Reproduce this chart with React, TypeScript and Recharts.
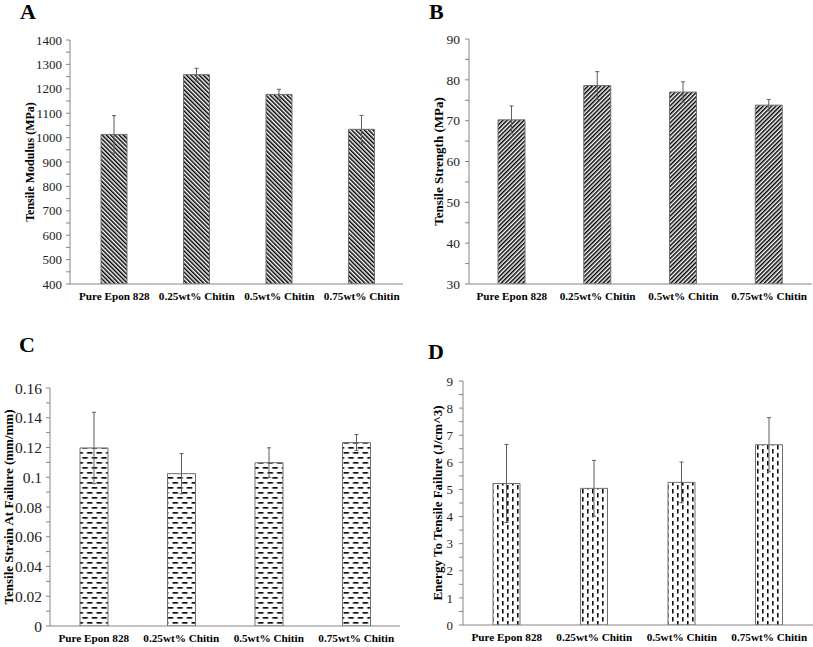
import { BarChart, Bar, XAxis, YAxis, ErrorBar } from "recharts";

const categories = ["Pure Epon 828", "0.25wt% Chitin", "0.5wt% Chitin", "0.75wt% Chitin"];

// A - tensile modulus
const modulusValues = [1013, 1258, 1177, 1034];
const modulusErrors = [77, 26, 21, 57];
const modulusTicks = [400, 450, 500, 550, 600, 650, 700, 750, 800, 850, 900, 950, 1000, 1050, 1100, 1150, 1200, 1250, 1300, 1350, 1400];
const modulusLabels = [400, 500, 600, 700, 800, 900, 1000, 1100, 1200, 1300, 1400];

// B - tensile strength
const strengthValues = [70.2, 78.6, 77.0, 73.8];
const strengthErrors = [3.4, 3.4, 2.5, 1.4];
const strengthTicks = [30, 35, 40, 45, 50, 55, 60, 65, 70, 75, 80, 85, 90];
const strengthLabels = [30, 40, 50, 60, 70, 80, 90];

// C - strain at failure
const strainValues = [0.1197, 0.1024, 0.1098, 0.1233];
const strainErrors = [0.024, 0.0135, 0.01, 0.0054];
const strainTicks = [0, 0.01, 0.02, 0.03, 0.04, 0.05, 0.06, 0.07, 0.08, 0.09, 0.1, 0.11, 0.12, 0.13, 0.14, 0.15, 0.16];
const strainLabels = [0, 0.02, 0.04, 0.06, 0.08, 0.1, 0.12, 0.14, 0.16];

// D - energy to failure
const energyValues = [5.22, 5.04, 5.26, 6.65];
const energyErrors = [1.44, 1.03, 0.75, 1.0];
const energyTicks = [0, 0.5, 1, 1.5, 2, 2.5, 3, 3.5, 4, 4.5, 5, 5.5, 6, 6.5, 7, 7.5, 8, 8.5, 9];
const energyLabels = [0, 1, 2, 3, 4, 5, 6, 7, 8, 9];

const FONT = '"Liberation Serif", "Times New Roman", serif';
const AXIS = "#868686";

function patternDefs(kind: string, id: string) {
  if (kind === "back" || kind === "fwd") {
    return (
      <pattern id={id} width={3} height={3} patternUnits="userSpaceOnUse" patternTransform={kind === "back" ? "rotate(-45)" : "rotate(45)"}>
        <rect width={3} height={3} fill="#fff" />
        <rect width={1.5} height={3} fill="#000" />
      </pattern>
    );
  }
  if (kind === "hdash") {
    return (
      <pattern id={id} width={9.5} height={10} patternUnits="userSpaceOnUse">
        <rect width={9.5} height={10} fill="#fff" />
        <rect x={1.5} y={2} width={5.5} height={1.7} fill="#111" />
        <rect x={6.25} y={7} width={5.5} height={1.7} fill="#111" />
        <rect x={-3.25} y={7} width={5.5} height={1.7} fill="#111" />
      </pattern>
    );
  }
  return (
    <pattern id={id} width={10} height={8} patternUnits="userSpaceOnUse">
      <rect width={10} height={8} fill="#fff" />
      <rect x={2} y={1} width={1.6} height={4.5} fill="#111" />
      <rect x={7} y={5} width={1.6} height={4.5} fill="#111" />
      <rect x={7} y={-3} width={1.6} height={4.5} fill="#111" />
    </pattern>
  );
}

interface PanelProps {
  id: string;
  letter: string;
  letterPos: { left: number; top: number };
  left: number;
  top: number;
  width: number;
  height: number;
  margin: { top: number; right: number; bottom: number; left: number };
  yWidth: number;
  xPadLeft: number;
  title: string;
  titleSize: number;
  titleX: number;
  tickSize: number;
  tickGap: number;
  ticks: number[];
  labels: number[];
  values: number[];
  errors: number[];
  pattern: string;
  barSize: number;
}

function Panel(p: PanelProps) {
  const data = categories.map((name, i) => ({ name, value: p.values[i], err: p.errors[i] }));
  const domain = [p.ticks[0], p.ticks[p.ticks.length - 1]];
  return (
    <>
      <div
        style={{
          position: "absolute",
          left: p.letterPos.left,
          top: p.letterPos.top,
          fontSize: 22,
          lineHeight: 1,
          fontWeight: "bold",
          fontFamily: FONT,
          color: "#000",
        }}
      >
        {p.letter}
      </div>
      <div style={{ position: "absolute", left: p.left, top: p.top }}>
        <BarChart width={p.width} height={p.height} data={data} margin={p.margin}>
          <defs>{patternDefs(p.pattern, p.id)}</defs>
          <XAxis
            dataKey="name"
            height={20}
            tickLine={false}
            axisLine={{ stroke: AXIS }}
            tick={{ fontSize: 11.2, fontWeight: "bold", fill: "#000", fontFamily: FONT }}
            interval={0}
            padding={{ left: p.xPadLeft, right: 0 }}
          />
          <YAxis
            width={p.yWidth}
            domain={domain}
            ticks={p.ticks}
            interval={0}
            allowDataOverflow
            tickSize={4}
            tickMargin={p.tickGap}
            tickLine={{ stroke: AXIS }}
            axisLine={{ stroke: AXIS }}
            tick={{ fontSize: p.tickSize, fill: "#222", fontFamily: FONT }}
            tickFormatter={(v: number) => (p.labels.includes(v) ? String(v) : "")}
            label={{
              value: p.title,
              angle: -90,
              position: "insideLeft",
              offset: p.titleX,
              textAnchor: "middle",
              style: { fontSize: p.titleSize, fontWeight: "bold", fill: "#000", fontFamily: FONT },
            }}
          />
          <Bar
            dataKey="value"
            fill={`url(#${p.id})`}
            stroke="#707070"
            strokeWidth={1}
            barSize={p.barSize}
            isAnimationActive={false}
          >
            <ErrorBar dataKey="err" direction="y" width={2} stroke="#5e5e5e" strokeWidth={1} />
          </Bar>
        </BarChart>
      </div>
    </>
  );
}

export default function App() {
  return (
    <div
      style={{
        position: "absolute",
        left: 0,
        top: 0,
        width: 813,
        height: 647,
        background: "#fff",
        fontFamily: FONT,
        overflow: "hidden",
      }}
    >
      <Panel
        id="patA"
        letter="A"
        letterPos={{ left: 20, top: 1 }}
        left={0}
        top={0}
        width={410}
        height={310}
        margin={{ top: 40, right: 7, bottom: 6, left: 0 }}
        yWidth={70}
        xPadLeft={3}
        title="Tensile Modulus (MPa)"
        titleSize={12}
        titleX={30}
        tickSize={13}
        tickGap={4}
        ticks={modulusTicks}
        labels={modulusLabels}
        values={modulusValues}
        errors={modulusErrors}
        pattern="back"
        barSize={26}
      />
      <Panel
        id="patB"
        letter="B"
        letterPos={{ left: 429, top: 1 }}
        left={410}
        top={0}
        width={403}
        height={310}
        margin={{ top: 39, right: 1, bottom: 6, left: 0 }}
        yWidth={59}
        xPadLeft={0}
        title="Tensile Strength (MPa)"
        titleSize={13}
        titleX={28}
        tickSize={13.5}
        tickGap={5}
        ticks={strengthTicks}
        labels={strengthLabels}
        values={strengthValues}
        errors={strengthErrors}
        pattern="fwd"
        barSize={27}
      />
      <Panel
        id="patC"
        letter="C"
        letterPos={{ left: 19, top: 334 }}
        left={0}
        top={320}
        width={410}
        height={327}
        margin={{ top: 68, right: 10, bottom: 1, left: 0 }}
        yWidth={50}
        xPadLeft={0}
        title="Tensile Strain At Failure (mm/mm)"
        titleSize={13}
        titleX={8}
        tickSize={15.5}
        tickGap={4}
        ticks={strainTicks}
        labels={strainLabels}
        values={strainValues}
        errors={strainErrors}
        pattern="hdash"
        barSize={28}
      />
      <Panel
        id="patD"
        letter="D"
        letterPos={{ left: 428, top: 341 }}
        left={410}
        top={320}
        width={403}
        height={327}
        margin={{ top: 61, right: 0, bottom: 2, left: 0 }}
        yWidth={53}
        xPadLeft={0}
        title="Energy To Tensile Failure (J/cm^3)"
        titleSize={13}
        titleX={27}
        tickSize={13}
        tickGap={6}
        ticks={energyTicks}
        labels={energyLabels}
        values={energyValues}
        errors={energyErrors}
        pattern="vdash"
        barSize={27}
      />
    </div>
  );
}
